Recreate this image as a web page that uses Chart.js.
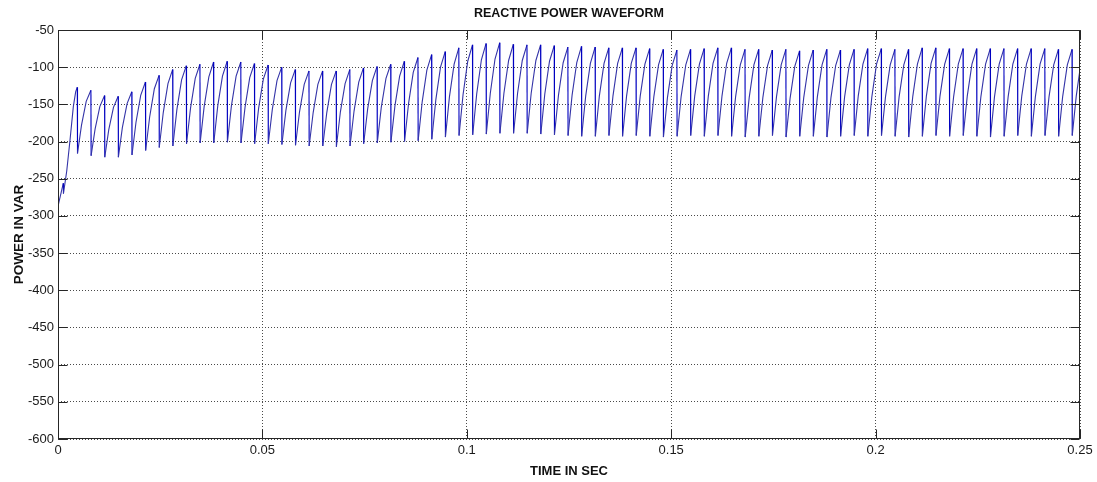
<!DOCTYPE html>
<html><head><meta charset="utf-8">
<script src="https://cdn.jsdelivr.net/npm/chart.js@4.4.1/dist/chart.umd.min.js"></script>
<style>html,body{margin:0;padding:0;background:#fff;}canvas{display:block}</style>
</head><body>
<canvas id="c" width="1097" height="482"></canvas>
<script>
const titleText = 'REACTIVE POWER WAVEFORM';
const xAxisTitle = 'TIME IN SEC';
const yAxisTitle = 'POWER IN VAR';
const xTickValues = [0, 0.05, 0.1, 0.15, 0.2, 0.25];
const xTickLabels = ['0', '0.05', '0.1', '0.15', '0.2', '0.25'];
const yTickValues = [-600, -550, -500, -450, -400, -350, -300, -250, -200, -150, -100, -50];
const yTickLabels = ['-600', '-550', '-500', '-450', '-400', '-350', '-300', '-250', '-200', '-150', '-100', '-50'];

// start-up transient (time in s, power in VAR)
const startTime  = [0, 0.00130, 0.00133, 0.00213, 0.00294, 0.00375, 0.00433];
const startPower = [-287, -256, -270, -240, -198, -153, -133];

// each ripple tooth: peak, sharp drop to trough, then rise
const peakTime = [
  0.00472,0.00805,0.01139,0.01472,0.01805,0.02139,0.02472,0.02805,0.03139,0.03472,
  0.03805,0.04139,0.04472,0.04805,0.05139,0.05472,0.05805,0.06139,0.06472,0.06805,
  0.07139,0.07472,0.07805,0.08139,0.08472,0.08805,0.09139,0.09472,0.09805,0.10139,
  0.10472,0.10805,0.11139,0.11472,0.11805,0.12139,0.12472,0.12805,0.13139,0.13472,
  0.13805,0.14139,0.14472,0.14805,0.15139,0.15472,0.15805,0.16139,0.16472,0.16805,
  0.17139,0.17472,0.17805,0.18139,0.18472,0.18805,0.19139,0.19472,0.19805,0.20139,
  0.20472,0.20805,0.21139,0.21472,0.21805,0.22139,0.22472,0.22805,0.23139,0.23472,
  0.23805,0.24139,0.24472,0.24805];
const peakPower = [
  -127,-131,-138,-139,-133,-120,-111,-103,-98,-96,
  -93,-92,-93,-95,-97,-100,-103,-105,-105,-105,
  -103,-101,-99,-96,-92,-87,-83,-79,-74,-70,
  -68,-67,-69,-70,-70,-71,-73,-72,-73,-74,
  -74,-74,-75,-76,-77,-76,-75,-74,-74,-76,
  -76,-77,-76,-78,-77,-76,-77,-76,-75,-75,
  -76,-76,-74,-74,-75,-75,-75,-75,-75,-75,
  -75,-75,-76,-76];
const troughPower = [
  -216,-219,-221,-221,-218,-212,-208,-206,-203,-202,
  -202,-201,-202,-203,-203,-204,-205,-206,-206,-207,
  -206,-203,-202,-201,-200,-199,-197,-194,-192,-191,
  -190,-189,-189,-189,-190,-191,-192,-193,-193,-192,
  -193,-192,-193,-194,-193,-192,-193,-192,-193,-194,
  -193,-192,-194,-193,-193,-194,-193,-192,-193,-192,
  -193,-194,-193,-192,-193,-192,-193,-194,-193,-192,
  -193,-192,-193,-192];
const riseMidPower = [
  -178,-183,-184,-181,-174,-167,-161,-157,-155,-153,
  -152,-152,-154,-155,-157,-158,-160,-161,-161,-160,
  -159,-156,-154,-152,-149,-147,-144,-140,-137,-136,
  -135,-135,-135,-135,-136,-138,-138,-139,-139,-139,
  -139,-139,-140,-141,-140,-139,-139,-139,-140,-141,
  -141,-140,-142,-141,-140,-141,-140,-139,-140,-140,
  -140,-140,-139,-139,-140,-139,-140,-140,-140,-139,
  -140,-140,-140,-139];
const riseHighPower = [
  -146,-153,-154,-149,-138,-129,-122,-117,-115,-113,
  -112,-112,-114,-116,-118,-121,-123,-123,-123,-122,
  -120,-118,-115,-112,-107,-104,-100,-96,-92,-90,
  -89,-91,-91,-91,-92,-94,-94,-95,-95,-95,
  -95,-96,-97,-98,-97,-96,-95,-95,-97,-97,
  -98,-97,-99,-98,-97,-98,-97,-96,-96,-97,
  -97,-96,-95,-96,-96,-96,-96,-96,-96,-96,
  -96,-97,-97];
const dropDelay = 0.00005, riseMidDelay = 0.00103, riseHighDelay = 0.00218;
const endTime  = [0.25];
const endPower = [-103];

const points = [];
startTime.forEach((t, i) => points.push({x: t, y: startPower[i]}));
peakTime.forEach((t, k) => {
  points.push({x: t, y: peakPower[k]});
  points.push({x: t + dropDelay, y: troughPower[k]});
  points.push({x: t + riseMidDelay, y: riseMidPower[k]});
  if (k < riseHighPower.length) points.push({x: t + riseHighDelay, y: riseHighPower[k]});
});
endTime.forEach((t, i) => points.push({x: t, y: endPower[i]}));

const FONT = "'Liberation Sans', Arial, Helvetica, sans-serif";
const riseColor = '#3434a8', dropColor = '#0000c0';

const framePlugin = {
  id: 'frame',
  afterDraw(chart) {
    const {ctx, chartArea: a, scales: {x, y}} = chart;
    ctx.save();
    ctx.strokeStyle = '#262626';
    ctx.lineWidth = 1;
    const L = Math.round(a.left) + 0.5, R = Math.round(a.right) - 0.5;
    const T = Math.round(a.top) + 0.5, B = Math.round(a.bottom) - 0.5;
    ctx.strokeRect(L, T, R - L, B - T);
    const len = 9;
    ctx.beginPath();
    xTickValues.forEach(v => {
      const px = Math.round(x.getPixelForValue(v)) + 0.5;
      ctx.moveTo(px, B); ctx.lineTo(px, B - len);
      ctx.moveTo(px, T); ctx.lineTo(px, T + len);
    });
    yTickValues.forEach(v => {
      const py = Math.round(y.getPixelForValue(v)) + 0.5;
      ctx.moveTo(L, py); ctx.lineTo(L + len, py);
      ctx.moveTo(R, py); ctx.lineTo(R - len, py);
    });
    ctx.stroke();
    ctx.restore();
  }
};

new Chart(document.getElementById('c'), {
  type: 'line',
  data: {
    datasets: [{
      data: points,
      borderColor: riseColor,
      borderWidth: 1.1,
      pointRadius: 0,
      tension: 0,
      fill: false,
      segment: {
        borderColor: c => (c.p1.parsed.y < c.p0.parsed.y ? dropColor : riseColor)
      }
    }]
  },
  options: {
    responsive: false,
    animation: false,
    devicePixelRatio: 1,
    layout: {padding: {left: 0, right: 17, top: 0, bottom: 0}},
    plugins: {
      legend: {display: false},
      tooltip: {enabled: false},
      title: {
        display: true, text: titleText, color: '#111',
        fullSize: false,
        font: {family: FONT, size: 12.5, weight: 'bold'},
        padding: {top: 6.5, bottom: 8.5}
      }
    },
    scales: {
      x: {
        type: 'linear', min: 0, max: 0.25,
        afterBuildTicks: s => { s.ticks = xTickValues.map(v => ({value: v})); },
        afterFit: s => { s.height = 43; },
        ticks: {
          callback: (v, i) => xTickLabels[i],
          font: {family: FONT, size: 13}, color: '#1a1a1a',
          padding: 4, maxRotation: 0, autoSkip: false
        },
        grid: {color: '#4a4a4a', lineWidth: 1, drawTicks: false},
        border: {display: false, dash: [1, 2]},
        title: {
          display: true, text: xAxisTitle, color: '#111',
          font: {family: FONT, size: 13, weight: 'bold'},
          padding: {top: 0, bottom: 3}
        }
      },
      y: {
        type: 'linear', min: -600, max: -50,
        afterBuildTicks: s => { s.ticks = yTickValues.map(v => ({value: v})); },
        afterFit: s => { s.width = 58; },
        ticks: {
          callback: (v, i) => yTickLabels[i],
          font: {family: FONT, size: 13}, color: '#1a1a1a',
          padding: 4, autoSkip: false
        },
        grid: {color: '#4a4a4a', lineWidth: 1, drawTicks: false},
        border: {display: false, dash: [1, 2]},
        title: {
          display: true, text: yAxisTitle, color: '#111',
          font: {family: FONT, size: 13.5, weight: 'bold'},
          padding: {top: 11}
        }
      }
    }
  },
  plugins: [framePlugin]
});
</script>
</body></html>
